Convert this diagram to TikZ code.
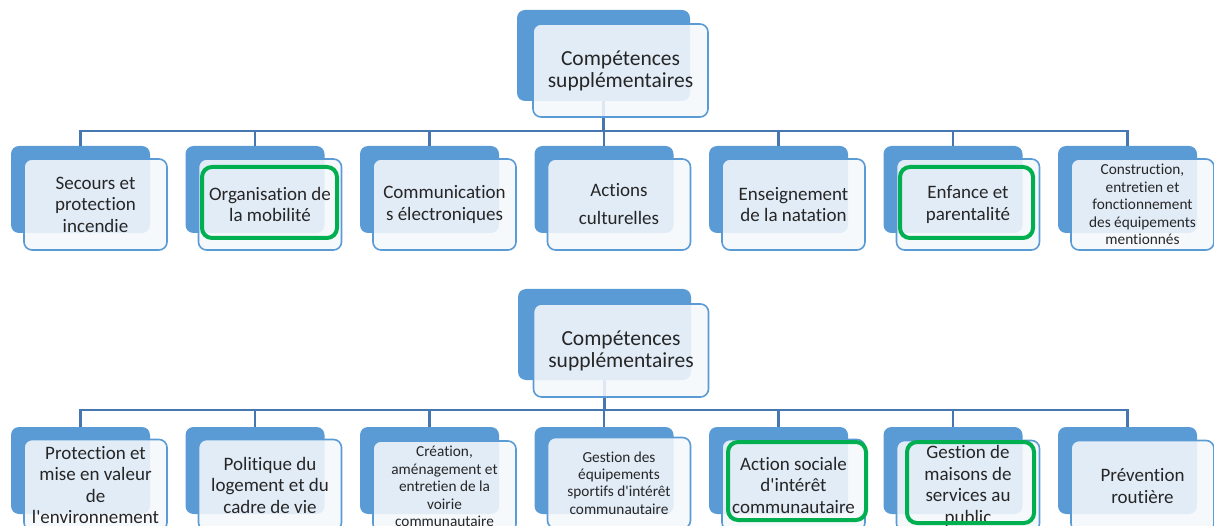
\documentclass[tikz,border=0pt]{standalone}
\usepackage{fontspec}
\setmainfont{Carlito}[Ligatures={TeXOff,NoCommon}]
\definecolor{backblue}{HTML}{5B9BD5}
\definecolor{linkblue}{HTML}{4677B0}
\definecolor{frontfill}{HTML}{F5F8FC}
\definecolor{frameblue}{HTML}{5B9BD5}
\definecolor{markgreen}{HTML}{00B050}
\definecolor{txt}{HTML}{262626}
\begin{document}
\begin{tikzpicture}[x=1pt,y=-1pt,
  backbox/.style={fill=backblue, rounded corners=8pt, inner sep=0pt,
    minimum width=139pt, minimum height=87pt},
  rootback/.style={backbox, minimum width=173pt, minimum height=91pt},
  frontbox/.style={draw=frameblue, line width=1.6pt, fill=frontfill,
    fill opacity=0.88, text opacity=1, rounded corners=8pt, inner sep=0pt,
    minimum width=143pt, minimum height=91pt, align=center, text=txt,
    font=\fontsize{19}{21.5}\selectfont},
  rootfront/.style={frontbox, minimum width=175pt, minimum height=93pt,
    font=\fontsize{21.5}{22}\selectfont},
  smalltext/.style={font=\fontsize{15.3}{17.4}\selectfont},
  link/.style={draw=linkblue, line width=2.2pt},
  greenframe/.style={draw=markgreen, line width=4pt, rounded corners=10pt,
    inner sep=0pt}
]
\useasboundingbox (0,0) rectangle (1214,526);
\clip (0,0) rectangle (1214,526);

% ---------- upper chart ----------
\node[rootback] (ra) at (603.5,55.5) {};
\foreach \i in {0,...,6}
  \node[backbox] (a\i) at ({80.5+174.5*\i},189.5) {};
\foreach \i in {0,...,6}
  \draw[link] (ra.south) -- ++(0,30) -| (a\i.north);
% the front box lets the connector show faintly through
\node[rootfront] (fa) at (620.5,70.5) {Compétences\\supplémentaires};

\node[frontbox] (fa0) at (95.5,204.5) {Secours et\\protection\\incendie};
\node[frontbox] (fa1) at (270,204.5) {Organisation de\\la mobilité};
\node[frontbox] (fa2) at (444.5,204.5) {Communication\\s électroniques};
\node[frontbox, font=\fontsize{19}{28}\selectfont] (fa3) at (619,204.5) {Actions\\culturelles};
\node[frontbox] (fa4) at (793.5,204.5) {Enseignement\\de la natation};
\node[frontbox] (fa5) at (968,204.5) {Enfance et\\parentalité};
\node[frontbox, smalltext] (fa6) at (1142.5,204.5) {Construction,\\entretien et\\fonctionnement\\des équipements\\mentionnés};

\node[greenframe, minimum width=135pt, minimum height=71pt] (ga1) at (269.5,202.5) {};
\node[greenframe, minimum width=133pt, minimum height=71pt] (ga5) at (966.5,202.5) {};

% ---------- lower chart ----------
\node[rootback] (rb) at (604.5,334.5) {};
\foreach \i in {0,...,6}
  \node[backbox] (b\i) at ({80.5+174.5*\i},470.5) {};
\foreach \i in {0,...,6}
  \draw[link] (rb.south) -- ++(0,30) -| (b\i.north);
\node[rootfront] (fb) at (621,350.5) {Compétences\\supplémentaires};

\node[frontbox] (fb0) at (95.5,485) {Protection et\\mise en valeur\\de\\l'environnement};
\node[frontbox] (fb1) at (270,485) {Politique du\\logement et du\\cadre de vie};
\node[frontbox, smalltext] (fb2) at (444.5,486.5) {Création,\\aménagement et\\entretien de la\\voirie\\communautaire};
\node[frontbox, smalltext] (fb3) at (619,483) {Gestion des\\équipements\\sportifs d'intérêt\\communautaire};
\node[frontbox] (fb4) at (793.5,485) {Action sociale\\d'intérêt\\communautaire};
\node[frontbox] (fb5) at (968,486) {Gestion de\\maisons de\\services au\\public};
\node[frontbox] (fb6) at (1142.5,486) {Prévention\\routière};

\node[greenframe, minimum width=138pt, minimum height=78pt] (gb4) at (797,481) {};
\node[greenframe, minimum width=127pt, minimum height=81pt] (gb5) at (970.5,482.5) {};
\end{tikzpicture}
\end{document}
